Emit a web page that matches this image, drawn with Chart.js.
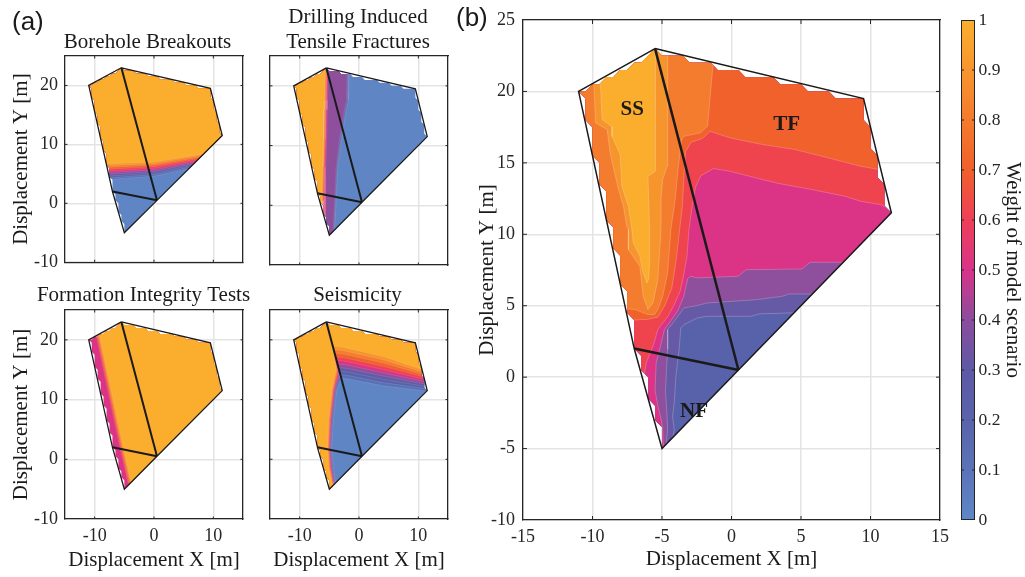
<!DOCTYPE html>
<html><head><meta charset="utf-8">
<script src="https://cdn.jsdelivr.net/npm/chart.js@4.4.1/dist/chart.umd.min.js"></script>
<style>
html,body{margin:0;padding:0;background:#fff;}
#wrap{position:relative;width:1025px;height:577px;overflow:hidden;background:#fff;}
canvas{position:absolute;}
.lbl{position:absolute;font-family:'Liberation Sans',Arial,sans-serif;font-size:26px;color:#1a1a1a;line-height:1;}
</style></head><body>
<div id="wrap">
<canvas id="a1" width="250" height="280" style="left:0px;top:0px"></canvas>
<canvas id="a2" width="193" height="280" style="left:262px;top:0px"></canvas>
<canvas id="a3" width="250" height="297" style="left:0px;top:280px"></canvas>
<canvas id="a4" width="193" height="297" style="left:262px;top:280px"></canvas>
<canvas id="b" width="492" height="577" style="left:463px;top:0px"></canvas>
<canvas id="cb" width="70" height="577" style="left:955px;top:0px"></canvas>
<div class="lbl" style="left:12px;top:8px">(a)</div>
<div class="lbl" style="left:456px;top:4px">(b)</div>
</div>
<script>
// ---------------- DATA ----------------
const domain = [[-5.5,23],[9.5,19.5],[11.5,11.5],[0.5,0.5],[-5,-5],[-7,2],[-11,20]];
const faultA = [[-5.5,23],[0.5,0.5]];
const faultB = [[-7,2],[0.5,0.5]];
const gridStep = 0.5; // spacing of the interpolation grid behind the contours

// contour band colours (low -> high)
const bandColors = ['#5f85c5','#5a70b5','#5862aa','#6659a5','#8e4f9c','#db3385','#ef434e','#f0612c','#f47c2e','#f7952d','#fbad2e'];
// colorbar colormap stops at 0,0.1,...,1
const cmapColors = ['#5e87c7','#5b73b8','#5963ab','#5d59a6','#8b4d9d','#d8348a','#ee3f58','#f0602c','#f47b2d','#f7952e','#fbaf2e'];
const cbTicks = [0,0.1,0.2,0.3,0.4,0.5,0.6,0.7,0.8,0.9,1];

const smallXTicks = [-10,0,10];
const smallYTicks = [-10,0,10,20];
const bigXTicks = [-15,-10,-5,0,5,10,15];
const bigYTicks = [-10,-5,0,5,10,15,20,25];

const panelTitles = {
  a1: ['Borehole Breakouts'],
  a2: ['Drilling Induced','Tensile Fractures'],
  a3: ['Formation Integrity Tests'],
  a4: ['Seismicity']
};
const axisX = 'Displacement X [m]';
const axisY = 'Displacement Y [m]';
const cbTitle = 'Weight of model scenario';
const regionLabels = [['SS',-7.14,18.73],['TF',3.96,17.68],['NF',-2.69,-2.42]];

// Borehole Breakouts: superlevel contour lines [colourIndex, side, points]
const bbLayers = [
 [1,'above',[[-12,3.7],[0,4.6],[6,5.9],[13,7.2]]],
 [2,'above',[[-12,4.01],[0,4.87],[6,6.13],[13,7.42]]],
 [3,'above',[[-12,4.32],[0,5.13],[6,6.37],[13,7.64]]],
 [4,'above',[[-12,4.63],[0,5.4],[6,6.6],[13,7.87]]],
 [5,'above',[[-12,4.94],[0,5.67],[6,6.83],[13,8.09]]],
 [6,'above',[[-12,5.26],[0,5.93],[6,7.07],[13,8.31]]],
 [7,'above',[[-12,5.57],[0,6.2],[6,7.3],[13,8.53]]],
 [8,'above',[[-12,5.88],[0,6.47],[6,7.53],[13,8.76]]],
 [9,'above',[[-12,6.19],[0,6.73],[6,7.77],[13,8.98]]],
 [10,'above',[[-12,6.5],[0,7.0],[6,8.0],[13,9.2]]]
];
// Drilling Induced Tensile Fractures
const ditfLayers = [
 [1,'left',[[-1.6,24.9],[-1.75,17.6],[-2.1,16],[-2.95,11],[-3.55,6.4],[-3.85,0.8],[-4.2,-6]]],
 [2,'left',[[-1.72,24.9],[-1.85,17.6],[-2.2,16],[-3.05,11],[-3.63,6.4],[-3.93,0.8],[-4.28,-6]]],
 [3,'left',[[-1.85,24.9],[-1.95,17.6],[-2.3,16],[-3.15,11],[-3.72,6.4],[-4.0,0.8],[-4.35,-6]]],
 [4,'left',[[-2.0,24.9],[-2.1,17.6],[-2.45,16],[-3.3,11],[-3.85,6.4],[-4.1,0.8],[-4.45,-6]]],
 [5,'left',[[-5.15,24.9],[-5.3,17.6],[-5.35,16],[-5.45,11],[-5.6,6.4],[-5.7,0.8],[-5.7,-6]]],
 [6,'left',[[-5.3,24.9],[-5.45,17.6],[-5.5,16],[-5.6,11],[-5.75,6.4],[-5.85,0.8],[-5.85,-6]]],
 [7,'left',[[-5.4,24.9],[-5.55,17.6],[-5.6,16],[-5.7,11],[-5.85,6.4],[-6.0,0.8],[-6.0,-6]]],
 [8,'left',[[-5.5,24.9],[-5.65,17.6],[-5.7,16],[-5.8,11],[-5.95,6.4],[-6.1,0.8],[-6.1,-6]]],
 [9,'left',[[-5.6,24.9],[-5.75,17.6],[-5.8,16],[-5.9,11],[-6.05,6.4],[-6.2,0.8],[-6.2,-6]]],
 [10,'left',[[-5.7,24.9],[-5.85,17.6],[-5.9,16],[-6.0,11],[-6.15,6.4],[-6.3,0.8],[-6.3,-6]]]
];
// Formation Integrity Tests (base = magenta)
const fitLayers = [
 [6,'right',[[-10.64,24.9],[-9.6,20],[-5.75,2],[-4.15,-5],[-3.63,-7]]],
 [7,'right',[[-10.49,24.9],[-9.45,20],[-5.6,2],[-4.0,-5],[-3.48,-7]]],
 [8,'right',[[-10.34,24.9],[-9.3,20],[-5.45,2],[-3.85,-5],[-3.33,-7]]],
 [9,'right',[[-10.19,24.9],[-9.15,20],[-5.3,2],[-3.7,-5],[-3.18,-7]]],
 [10,'right',[[-10.04,24.9],[-9.0,20],[-5.15,2],[-3.55,-5],[-3.03,-7]]]
];
// Seismicity
const seisLayers = [
 [1,'upperLeft',[[12.5,11.3],[4.1,12.3],[-1.5,13.4],[-2.95,13.6],[-3.1,13.2],[-3.75,11.6],[-4.31,6.55],[-4.59,2.1],[-4.31,-1.26],[-4.03,-3.5],[-3.9,-6.5]]],
 [2,'upperLeft',[[12.5,11.64],[4.1,12.84],[-1.66,14.0],[-3.13,14.2],[-3.18,13.42],[-3.84,11.6],[-4.40,6.55],[-4.67,2.1],[-4.40,-1.26],[-4.09,-3.56],[-3.97,-6.5]]],
 [3,'upperLeft',[[12.5,11.99],[4.1,13.39],[-1.81,14.6],[-3.32,14.8],[-3.27,13.64],[-3.94,11.6],[-4.50,6.55],[-4.75,2.1],[-4.50,-1.26],[-4.15,-3.62],[-4.03,-6.5]]],
 [4,'upperLeft',[[12.5,12.33],[4.1,13.93],[-1.97,15.2],[-3.5,15.4],[-3.35,13.87],[-4.03,11.6],[-4.59,6.55],[-4.83,2.1],[-4.59,-1.26],[-4.22,-3.69],[-4.1,-6.5]]],
 [5,'upperLeft',[[12.5,12.68],[4.1,14.48],[-2.12,15.8],[-3.68,16.0],[-3.43,14.09],[-4.12,11.6],[-4.68,6.55],[-4.91,2.1],[-4.68,-1.26],[-4.28,-3.75],[-4.17,-6.5]]],
 [6,'upperLeft',[[12.5,13.02],[4.1,15.02],[-2.28,16.4],[-3.87,16.6],[-3.52,14.31],[-4.22,11.6],[-4.78,6.55],[-5.0,2.1],[-4.78,-1.26],[-4.34,-3.81],[-4.23,-6.5]]],
 [7,'upperLeft',[[12.5,13.37],[4.1,15.57],[-2.43,17.0],[-4.05,17.2],[-3.6,14.53],[-4.31,11.6],[-4.87,6.55],[-5.08,2.1],[-4.87,-1.26],[-4.40,-3.87],[-4.3,-6.5]]],
 [8,'upperLeft',[[12.5,13.71],[4.1,16.11],[-2.59,17.6],[-4.23,17.8],[-3.68,14.76],[-4.40,11.6],[-4.96,6.55],[-5.16,2.1],[-4.96,-1.26],[-4.47,-3.94],[-4.37,-6.5]]],
 [9,'upperLeft',[[12.5,14.06],[4.1,16.66],[-2.74,18.2],[-4.42,18.4],[-3.77,14.98],[-4.50,11.6],[-5.06,6.55],[-5.24,2.1],[-5.06,-1.26],[-4.53,-4.0],[-4.43,-6.5]]],
 [10,'upperLeft',[[12.5,14.4],[4.1,17.2],[-2.9,18.8],[-4.6,19.0],[-3.85,15.2],[-4.59,11.6],[-5.15,6.55],[-5.32,2.1],[-5.15,-1.26],[-4.59,-4.06],[-4.5,-6.5]]]
];
// Combined weights (panel b)
const combLayers = [
 [3,'upperLeft',[[5.5,4.5],[4.4,4.5],[1.99,4.43],[1.41,4.26],[-1.77,4.26],[-2.47,4.14],[-3.42,3.68],[-3.65,3.44],[-3.77,1.93],[-4.0,0.06],[-4.12,-1.81],[-4.24,-2.74],[-4.12,-3.68],[-4.3,-4.6],[-4.4,-6.5]]],
 [4,'upperLeft',[[7,5.82],[4.12,5.82],[3.65,5.66],[1.77,5.42],[-1.77,5.19],[-2.47,5.01],[-3.42,4.84],[-4.12,3.91],[-4.59,3.33],[-4.59,1.93],[-4.65,1.0],[-4.75,-1.0],[-4.65,-2.5],[-4.6,-3.7],[-4.7,-4.8],[-4.7,-6.5]]],
 [5,'upperLeft',[[9.5,8.04],[8.01,8.04],[5.65,8.04],[5.06,7.57],[1.06,7.52],[0.47,7.06],[-2.47,6.95],[-2.95,7.06],[-3.15,6.9],[-3.45,5.6],[-3.9,4.6],[-4.4,3.9],[-4.83,3.33],[-5.1,2.2],[-5.42,1.0],[-5.5,-0.9],[-5.3,-2.0],[-5.05,-3.0],[-4.95,-3.7],[-4.9,-4.9],[-4.9,-6.5]]],
 [6,'upperLeft',[[12.5,11.6],[11.43,11.72],[10.72,12.08],[9.31,12.31],[8.13,12.67],[5.77,13.13],[3.42,13.55],[2.24,13.83],[-0.12,14.41],[-1.29,14.6],[-2.2,14.1],[-2.59,13.3],[-2.83,11.96],[-3.06,10.33],[-3.2,8.46],[-3.45,7.06],[-3.7,6.0],[-4.1,5.1],[-4.55,4.3],[-5.0,3.7],[-5.3,3.33],[-5.6,2.3],[-6.13,1.0],[-6.3,0.0],[-7.5,-0.8]]],
 [7,'upperLeft',[[12.5,14.4],[10.6,14.53],[9.31,14.76],[6.95,15.35],[4.59,15.93],[2.24,16.28],[-0.12,16.75],[-1.53,17.21],[-2.1,16.7],[-2.9,16.45],[-3.3,15.8],[-3.41,14.3],[-3.53,11.96],[-3.77,10.0],[-4.0,8.0],[-4.3,6.2],[-4.83,4.95],[-5.3,4.2],[-6.0,4.05],[-7.0,4.0],[-8.5,4.0]]],
 [8,'left',[[-1.2,24.9],[-1.2,23.0],[-1.34,21.77],[-1.72,17.56],[-2.24,17.1],[-3.41,16.86],[-3.6,16.6],[-3.85,14.5],[-4.05,12.43],[-4.36,10.33],[-4.59,7.3],[-4.95,5.66],[-5.3,4.73],[-5.53,4.38],[-6.01,4.38],[-6.95,4.73],[-8.5,4.85]]],
 [9,'closed',[[-10.0,22.0],[-9.89,20.36],[-9.78,17.8],[-8.95,17.33],[-8.71,15.58],[-8.13,13.13],[-7.77,11.96],[-7.54,10.56],[-7.42,10.33],[-7.42,8.93],[-6.59,7.76],[-6.36,5.66],[-6.01,4.73],[-5.65,5.2],[-5.3,6.83],[-5.07,10.33],[-5.07,12.5],[-4.95,13.83],[-4.64,14.76],[-4.59,22.47],[-4.5,24.9],[-10.0,24.9]]],
 [10,'closed',[[-9.55,22.0],[-9.42,20.36],[-9.31,18.03],[-8.6,17.52],[-8.6,16.86],[-8.01,15.58],[-7.89,13.36],[-7.42,11.96],[-7.19,10.56],[-7.07,9.4],[-6.59,8.46],[-6.36,7.3],[-6.08,6.6],[-5.95,6.9],[-5.89,8.0],[-5.89,10.33],[-6.01,14.06],[-5.49,14.41],[-5.49,22.7],[-5.45,24.9],[-9.55,24.9]]]
];

// ---------------- DRAWING ----------------
const SERIF = "'Liberation Serif','Times New Roman',serif";
const INK = '#262626';

function wrapPts(pts, side) {
  const f = pts[0], l = pts[pts.length - 1];
  const X0 = -14.9, X1 = 14.9, YT = 24.9;
  let extra = [];
  if (side === 'above') extra = [[X1, l[1]], [X1, YT], [X0, YT], [X0, f[1]]];
  else if (side === 'left') extra = [[X0, l[1]], [X0, f[1]]];
  else if (side === 'right') extra = [[X1, l[1]], [X1, f[1]]];
  else if (side === 'upperLeft') extra = [[X0, l[1]], [X0, YT], [X1, YT], [X1, f[1]]];
  return pts.concat(extra, [f]);
}

// cells of the interpolation grid that lie inside the domain (the gridded
// contour fill stops at these, leaving the small notches along the outline)
function insidePoly(px, py, poly) {
  for (let i = 0; i < poly.length; i++) {
    const a = poly[i], b = poly[(i + 1) % poly.length];
    const dx = b[0] - a[0], dy = b[1] - a[1];
    const t = Math.max(0, Math.min(1, ((px - a[0]) * dx + (py - a[1]) * dy) / (dx * dx + dy * dy)));
    const qx = a[0] + t * dx - px, qy = a[1] + t * dy - py;
    if (qx * qx + qy * qy < 1e-12) return true;
  }
  let c = false;
  for (let i = 0, j = poly.length - 1; i < poly.length; j = i++) {
    const a = poly[i], b = poly[j];
    if ((a[1] > py) !== (b[1] > py) && px < (b[0] - a[0]) * (py - a[1]) / (b[1] - a[1]) + a[0]) c = !c;
  }
  return c;
}
function gridShapes(poly, step) {
  const xs = poly.map(p => p[0]), ys = poly.map(p => p[1]);
  const x0 = Math.floor(Math.min(...xs) / step) * step, x1 = Math.ceil(Math.max(...xs) / step) * step;
  const y0 = Math.floor(Math.min(...ys) / step) * step, y1 = Math.ceil(Math.max(...ys) / step) * step;
  const shapes = [];
  for (let i = 0; x0 + i * step < x1; i++) {
    for (let j = 0; y0 + j * step < y1; j++) {
      const a = x0 + i * step, b = a + step, c = y0 + j * step, d = c + step;
      const q = [[a, c], [b, c], [b, d], [a, d]];
      const inn = q.map(p => insidePoly(p[0], p[1], poly));
      const n = inn.filter(Boolean).length;
      if (n === 4) shapes.push(q);
      else if (n === 3) shapes.push(q.filter((p, k) => inn[k]));
    }
  }
  return shapes;
}
const fillShapes = gridShapes(domain, gridStep);

function clipPlugin(shapes) {
  return {
    id: 'domainClip',
    beforeDatasetsDraw(chart) {
      const {ctx, scales: {x, y}} = chart;
      ctx.save();
      ctx.beginPath();
      shapes.forEach(s => {
        s.forEach((p, i) => {
          const px = x.getPixelForValue(p[0]), py = y.getPixelForValue(p[1]);
          if (i) ctx.lineTo(px, py); else ctx.moveTo(px, py);
        });
        ctx.closePath();
      });
      ctx.clip('nonzero');
      chart.$clipOn = true;
    },
    beforeDatasetDraw(chart, args) {
      if (chart.$clipOn && chart.data.datasets[args.index].outline) {
        chart.ctx.restore(); chart.$clipOn = false;
      }
    },
    afterDatasetsDraw(chart) {
      if (chart.$clipOn) { chart.ctx.restore(); chart.$clipOn = false; }
    }
  };
}

function textPlugin(items) {
  return {
    id: 'texts',
    afterDraw(chart) {
      const {ctx, scales: {x, y}} = chart;
      items.forEach(it => {
        ctx.save();
        ctx.font = it.font;
        ctx.fillStyle = it.color || '#1a1a1a';
        ctx.textAlign = 'center';
        ctx.textBaseline = 'middle';
        const px = it.data ? x.getPixelForValue(it.x) : it.x;
        const py = it.data ? y.getPixelForValue(it.y) : it.y;
        ctx.fillText(it.text, px, py);
        ctx.restore();
      });
    }
  };
}

function inTicks(xT, yT, len) {
  return {
    id: 'inTicks',
    afterDraw(chart) {
      const {ctx, chartArea: a, scales: {x, y}} = chart;
      ctx.save();
      ctx.strokeStyle = INK; ctx.lineWidth = 1;
      ctx.beginPath();
      xT.forEach(v => {
        const p = x.getPixelForValue(v);
        if (p > a.left + 1 && p < a.right - 1) {
          ctx.moveTo(p, a.bottom); ctx.lineTo(p, a.bottom - len);
          ctx.moveTo(p, a.top); ctx.lineTo(p, a.top + len);
        }
      });
      yT.forEach(v => {
        const p = y.getPixelForValue(v);
        if (p > a.top + 1 && p < a.bottom - 1) {
          ctx.moveTo(a.left, p); ctx.lineTo(a.left + len, p);
          ctx.moveTo(a.right, p); ctx.lineTo(a.right - len, p);
        }
      });
      ctx.stroke();
      ctx.restore();
    }
  };
}

function makePanel(P) {
  const tickFont = {family: SERIF, size: 18};
  const titleFont = {family: SERIF, size: 21};
  const paint = [{pts: domain.concat([domain[0]]), c: P.base, base: true}];
  P.layers.forEach(L => paint.push({pts: L[1] === 'closed' ? L[2].concat([L[2][0]]) : wrapPts(L[2], L[1]), c: L[0]}));
  const ds = paint.map((p, i) => ({
    data: p.pts.map(([x, y]) => ({x, y})),
    showLine: true, fill: 'shape', tension: 0,
    backgroundColor: bandColors[p.c],
    borderColor: p.base ? 'rgba(0,0,0,0)' : 'rgba(255,255,255,0.28)',
    borderWidth: p.base ? 0 : P.cl,
    pointRadius: 0, pointHoverRadius: 0, order: 100 + paint.length - i
  }));
  const outline = (pts, w, order) => ({
    data: pts.map(([x, y]) => ({x, y})), showLine: true, fill: false, tension: 0,
    borderColor: '#1a1a1a', borderWidth: w, pointRadius: 0, pointHoverRadius: 0,
    borderJoinStyle: 'miter', outline: true, order
  });
  ds.push(outline(domain.concat([domain[0]]), P.lw[0], 2));
  ds.push(outline(faultA, P.lw[1], 1));
  ds.push(outline(faultB, P.lw[1], 0));

  const border = {display: true, color: INK, width: 1.3};
  const grid = {color: '#e4e4e4', lineWidth: 1.5, drawTicks: false};
  new Chart(document.getElementById(P.id), {
    type: 'scatter',
    data: {datasets: ds},
    options: {
      responsive: false, animation: false, devicePixelRatio: 1, events: [],
      layout: {padding: 0, autoPadding: false},
      plugins: {legend: {display: false}, tooltip: {enabled: false}, title: {display: false}},
      scales: {
        x: {type: 'linear', position: 'bottom', min: -15, max: 15,
            afterBuildTicks: s => { s.ticks = P.xTicks.map(v => ({value: v})); },
            ticks: {display: P.showX, font: tickFont, color: INK, padding: 6, maxRotation: 0, autoSkip: false, callback: v => String(v)},
            grid, border,
            title: {display: !!P.xTitle, text: P.xTitle || '', font: titleFont, color: '#1a1a1a', padding: {top: 0, bottom: P.xTitlePad || 0}},
            afterFit: s => { s.height = P.box.b; }},
        y: {type: 'linear', position: 'left', min: -10, max: 25,
            afterBuildTicks: s => { s.ticks = P.yTicks.map(v => ({value: v})); },
            ticks: {display: P.showY, font: tickFont, color: INK, padding: P.yTickPad || 7, autoSkip: false, callback: v => String(v)},
            grid, border,
            title: {display: !!P.yTitle, text: P.yTitle || '', font: titleFont, color: '#1a1a1a', padding: {top: P.yTitlePad || 0, bottom: 0}},
            afterFit: s => { s.width = P.box.l; }},
        x2: {type: 'linear', position: 'top', min: -15, max: 15, ticks: {display: false},
             grid: {display: false, drawTicks: false}, border, afterFit: s => { s.height = P.box.t; }},
        y2: {type: 'linear', position: 'right', min: -10, max: 25, ticks: {display: false},
             grid: {display: false, drawTicks: false}, border, afterFit: s => { s.width = P.box.r; }}
      }
    },
    plugins: [clipPlugin(fillShapes), textPlugin(P.texts || []), inTicks(P.xTicks, P.yTicks, P.tickLen)]
  });
}

const titleCss = "21px " + SERIF;
const boldCss = "bold 21px " + SERIF;

makePanel({id: 'a1', base: 0, layers: bbLayers, xTicks: smallXTicks, yTicks: smallYTicks,
  showX: false, showY: true, yTitle: axisY, yTitlePad: 8.4, box: {l: 65, t: 56, r: 7, b: 15},
  lw: [1.3, 2], tickLen: 2.5, cl: 0.4,
  texts: [{text: panelTitles.a1[0], x: 147.5, y: 42, font: titleCss}]});
makePanel({id: 'a2', base: 0, layers: ditfLayers, xTicks: smallXTicks, yTicks: smallYTicks,
  showX: false, showY: false, box: {l: 8, t: 56, r: 7, b: 15},
  lw: [1.3, 2], tickLen: 2.5, cl: 0.4,
  texts: [{text: panelTitles.a2[0], x: 96, y: 17, font: titleCss}, {text: panelTitles.a2[1], x: 96, y: 42.5, font: titleCss}]});
makePanel({id: 'a3', base: 5, layers: fitLayers, xTicks: smallXTicks, yTicks: smallYTicks,
  showX: true, showY: true, xTitle: axisX, xTitlePad: 4.4, yTitle: axisY, yTitlePad: 8.4,
  box: {l: 65, t: 30, r: 7, b: 58}, lw: [1.3, 2], tickLen: 2.5, cl: 0.4,
  texts: [{text: panelTitles.a3[0], x: 143.5, y: 15, font: titleCss}]});
makePanel({id: 'a4', base: 0, layers: seisLayers, xTicks: smallXTicks, yTicks: smallYTicks,
  showX: true, showY: false, xTitle: axisX, xTitlePad: 4.4,
  box: {l: 8, t: 30, r: 7, b: 58}, lw: [1.3, 2], tickLen: 2.5, cl: 0.4,
  texts: [{text: panelTitles.a4[0], x: 95.5, y: 15, font: titleCss}]});
makePanel({id: 'b', base: 2, layers: combLayers, xTicks: bigXTicks, yTicks: bigYTicks,
  showX: true, showY: true, xTitle: axisX, xTitlePad: 5.4, yTitle: axisY, yTitlePad: 11.4, yTickPad: 8,
  box: {l: 60, t: 20, r: 8, b: 57}, lw: [1.5, 2.5], tickLen: 4, cl: 0.8,
  texts: regionLabels.map(r => ({text: r[0], x: r[1], y: r[2], data: true, font: boldCss}))});

// colour bar
const cbTickPlugin = {
  id: 'cbTicks',
  afterDraw(chart) {
    const {ctx, chartArea: a, scales: {y}} = chart;
    ctx.save(); ctx.strokeStyle = INK; ctx.lineWidth = 1; ctx.beginPath();
    cbTicks.forEach(v => {
      const p = y.getPixelForValue(v);
      if (p > a.top + 1 && p < a.bottom - 1) {
        ctx.moveTo(a.left, p); ctx.lineTo(a.left + 3, p);
        ctx.moveTo(a.right, p); ctx.lineTo(a.right - 3, p);
      }
    });
    ctx.stroke(); ctx.restore();
  }
};
new Chart(document.getElementById('cb'), {
  type: 'bar',
  data: {labels: ['w'], datasets: [{
    data: [[0, 1]],
    backgroundColor: c => {
      const ch = c.chart, ca = ch.chartArea;
      if (!ca) return cmapColors[5];
      const g = ch.ctx.createLinearGradient(0, ca.bottom, 0, ca.top);
      cmapColors.forEach((col, i) => g.addColorStop(i / (cmapColors.length - 1), col));
      return g;
    },
    borderColor: INK, borderWidth: 1, borderSkipped: false,
    barPercentage: 1, categoryPercentage: 1, inflateAmount: 0
  }]},
  options: {
    responsive: false, animation: false, devicePixelRatio: 1, events: [],
    layout: {padding: {left: 6, top: 20, bottom: 57, right: 0}, autoPadding: false},
    plugins: {legend: {display: false}, tooltip: {enabled: false}},
    scales: {
      x: {display: false},
      y: {position: 'right', min: 0, max: 1,
          afterBuildTicks: s => { s.ticks = cbTicks.map(v => ({value: v})); },
          ticks: {font: {family: SERIF, size: 17.5}, color: INK, padding: 3.5, autoSkip: false, callback: v => String(v)},
          grid: {display: false, drawTicks: false}, border: {display: false},
          title: {display: true, text: cbTitle, font: {family: SERIF, size: 21}, color: '#1a1a1a', padding: {top: 0, bottom: 0}},
          afterFit: s => { s.width = 50; }}
    }
  },
  plugins: [cbTickPlugin]
});
</script>
</body></html>
